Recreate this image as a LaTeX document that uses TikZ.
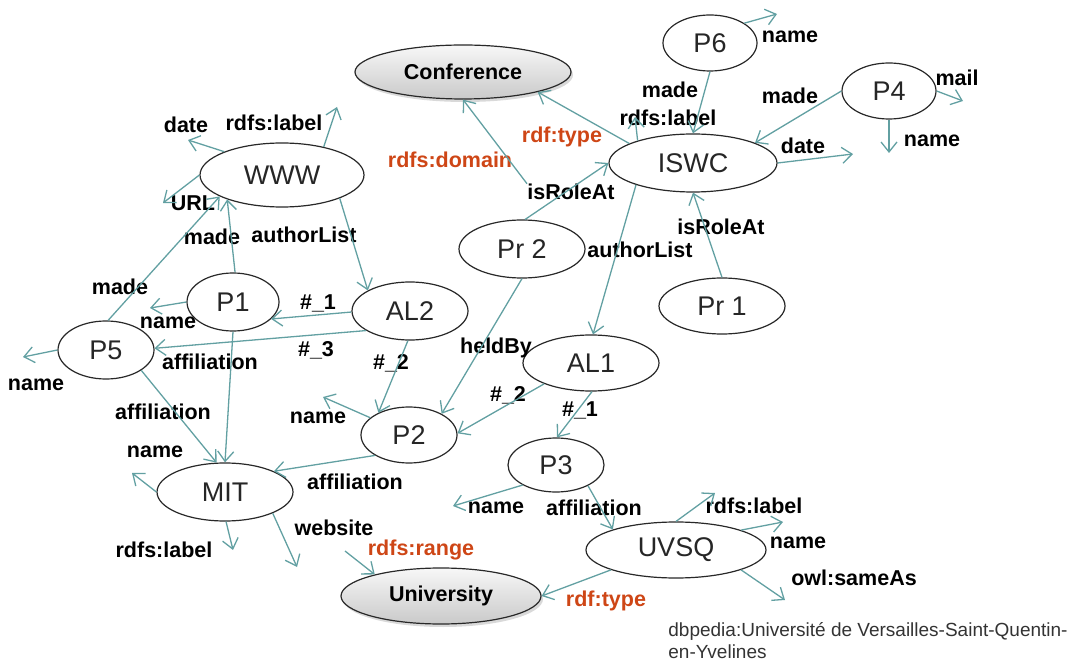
\documentclass[tikz,border=0pt]{standalone}
\usepackage{fontspec}
\setmainfont{Liberation Sans}
\usetikzlibrary{shapes.geometric,arrows.meta,shadows}
\definecolor{edgecol}{RGB}{98,160,162}
\definecolor{metacol}{RGB}{206,70,22}
\definecolor{linecol}{RGB}{40,40,40}
\tikzset{
  res/.style={ellipse,draw=linecol,line width=0.6pt,fill=white,inner sep=0pt,
    font=\fontsize{13.5}{16}\selectfont,text=black!85},
  cls/.style={ellipse,draw=linecol,line width=0.6pt,inner sep=0pt,
    top color=gray!6,bottom color=gray!42,
    drop shadow={shadow xshift=1pt,shadow yshift=-1.5pt,opacity=0.3},
    font=\fontsize{10.75}{13}\selectfont\bfseries},
  prop/.style={inner sep=0pt,font=\fontsize{10.75}{13}\selectfont\bfseries},
  meta/.style={prop,text=metacol},
  rel/.style={draw=edgecol,line width=0.65pt,-{Straight Barb[length=5pt,width=8pt]}},
}
\begin{document}
\begin{tikzpicture}[x=0.5pt,y=-0.5pt]
\useasboundingbox (0,0) rectangle (1070,662);
% classes
\node[cls,minimum width=108pt,minimum height=27pt] (conf) at (463,72) {Conference};
\node[cls,minimum width=100pt,minimum height=28pt] (univ) at (441,596) {University};
% resources
\node[res,minimum width=82pt,minimum height=32pt] (WWW) at (282,175) {WWW};
\node[res,minimum width=46pt,minimum height=29pt] (P1) at (233,302) {P1};
\node[res,minimum width=48pt,minimum height=29pt] (P5) at (106,350) {P5};
\node[res,minimum width=58pt,minimum height=29pt] (AL2) at (410,311) {AL2};
\node[res,minimum width=48pt,minimum height=28pt] (P2) at (409,435) {P2};
\node[res,minimum width=68pt,minimum height=29pt] (MIT) at (225,492) {MIT};
\node[res,minimum width=63pt,minimum height=29pt] (Pr2) at (522,249) {Pr 2};
\node[res,minimum width=68pt,minimum height=28pt] (AL1) at (591,363) {AL1};
\node[res,minimum width=48pt,minimum height=27pt] (P3) at (556,465) {P3};
\node[res,minimum width=90pt,minimum height=28pt] (UVSQ) at (676,550) {UVSQ};
\node[res,minimum width=84pt,minimum height=29pt] (ISWC) at (693,163) {ISWC};
\node[res,minimum width=47pt,minimum height=28pt] (P6) at (710,43) {P6};
\node[res,minimum width=47pt,minimum height=28pt] (P4) at (889,91) {P4};
\node[res,minimum width=63pt,minimum height=28pt] (Pr1) at (722,306) {Pr 1};
% loose ends of literal values
\coordinate (wdateE) at (188,140);
\coordinate (wlblE) at (337,107);
\coordinate (wurlE) at (163,203);
\coordinate (p1nameE) at (150,308);
\coordinate (p5nameE) at (23,357);
\coordinate (mitnameE) at (132,473);
\coordinate (mitlblE) at (233,550);
\coordinate (mitwebE) at (297,567);
\coordinate (p2nameE) at (323,397);
\coordinate (p3nameE) at (453,506);
\coordinate (uvlblE) at (715,493);
\coordinate (uvnameE) at (783,522);
\coordinate (uvsameE) at (785,600);
\coordinate (islblE) at (635,117);
\coordinate (isdateE) at (853,154);
\coordinate (p6nameE) at (777,14);
\coordinate (p4mailE) at (963,101);
\coordinate (p4nameE) at (889,153);
\coordinate (rngS) at (345,551);
% labels
\node[prop] (wdate) at (186,125) {date};
\node[prop] (wlbl) at (274,123) {rdfs:label};
\node[prop] (wurl) at (193,203) {URL};
\node[prop] (p1made) at (212,237) {made};
\node[prop] (wal) at (304,235) {authorList};
\node[prop] (p5made) at (120,287) {made};
\node[prop] (p1name) at (168,323) {name};
\node[prop] (al2a) at (318,303) {\#\_1};
\node[prop] (al2c) at (316,350) {\#\_3};
\node[prop] (p5name) at (36,385) {name};
\node[prop] (p1aff) at (210,362) {affiliation};
\node[prop] (p5aff) at (163,412) {affiliation};
\node[prop] (al2b) at (391,363) {\#\_2};
\node[prop] (p2name) at (318,418) {name};
\node[prop] (mitname) at (155,452) {name};
\node[prop] (p2aff) at (355,482) {affiliation};
\node[prop] (mitlbl) at (164,550) {rdfs:label};
\node[prop] (mitweb) at (334,528) {website};
\node[meta] (rng) at (421,550) {rdfs:range};
\node[meta] (uvtype) at (606,601) {rdf:type};
\node[prop] (p3name) at (496,508) {name};
\node[prop] (p3aff) at (594,508) {affiliation};
\node[prop] (uvlbl) at (754,506) {rdfs:label};
\node[prop] (uvname) at (798,543) {name};
\node[prop] (uvsame) at (854,578) {owl:sameAs};
\node[prop] (held) at (496,348) {heldBy};
\node[prop] (al1b) at (508,395) {\#\_2};
\node[prop] (al1a) at (580,410) {\#\_1};
\node[prop] (isal) at (640,250) {authorList};
\node[prop] (pr2role) at (571,192) {isRoleAt};
\node[prop] (pr1role) at (721,227) {isRoleAt};
\node[meta] (dom) at (450,160) {rdfs:domain};
\node[meta] (istype) at (562,137) {rdf:type};
\node[prop] (p6made) at (670,90) {made};
\node[prop] (islbl) at (668,118) {rdfs:label};
\node[prop] (p6name) at (790,37) {name};
\node[prop] (p4made) at (790,96) {made};
\node[prop] (p4mail) at (957,78) {mail};
\node[prop] (p4name) at (932,141) {name};
\node[prop] (isdate) at (803,146) {date};
\node[anchor=west,align=left,inner sep=0pt,text=black!80,
  font=\fontsize{9.5}{11}\selectfont] (dbp) at (668,641)
  {dbpedia:Université de Versailles-Saint-Quentin-\\en-Yvelines};
% links between resources
\draw[rel] (P1.86) -- (WWW.204);
\draw[rel] (P5.86) -- (WWW.199);
\draw[rel] (WWW.338) -- (AL2.154);
\draw[rel] (AL2.181) -- (P1.336);
\draw[rel] (AL2.204) -- (P5.2);
\draw[rel] (AL2.266) -- (P2.144);
\draw[rel] (P1.270) -- (MIT.90);
\draw[rel] (P5.330) -- (MIT.106);
\draw[rel] (P2.211) -- (MIT.23);
\draw[rel] (Pr2.270) -- (P2.33);
\draw[rel] (Pr2.84) -- (ISWC.180);
\draw[rel] (ISWC.201) -- (AL1.86);
\draw[rel] (Pr1.90) -- (ISWC.270);
\draw[rel] (AL1.204) -- (P2.2);
\draw[rel] (AL1.272) -- (P3.88);
\draw[rel] (P6.270) -- (ISWC.90);
\draw[rel] (P4.180) -- (ISWC.18);
\draw[rel] (P3.327) -- (UVSQ.162);
% types and schema
\draw[rel] (ISWC.163) -- (conf.345);
\draw[rel] (UVSQ.197) -- (univ.0);
\draw[rel] (pr2role.north west) -- (conf.270);
\draw[rel] (rngS) -- (univ.162);
% literal values
\draw[rel] (WWW.158) -- (wdateE);
\draw[rel] (WWW.34) -- (wlblE);
\draw[rel] (WWW.180) -- (wurlE);
\draw[rel] (P1.180) -- (p1nameE);
\draw[rel] (P5.180) -- (p5nameE);
\draw[rel] (MIT.180) -- (mitnameE);
\draw[rel] (MIT.272) -- (mitlblE);
\draw[rel] (MIT.336) -- (mitwebE);
\draw[rel] (P2.156) -- (p2nameE);
\draw[rel] (P3.211) -- (p3nameE);
\draw[rel] (UVSQ.90) -- (uvlblE);
\draw[rel] (UVSQ.17) -- (uvnameE);
\draw[rel] (UVSQ.343) -- (uvsameE);
\draw[rel] (ISWC.158) -- (islblE);
\draw[rel] (ISWC.0) -- (isdateE);
\draw[rel] (P6.30) -- (p6nameE);
\draw[rel] (P4.0) -- (p4mailE);
\draw[rel] (P4.270) -- (p4nameE);
\end{tikzpicture}
\end{document}
